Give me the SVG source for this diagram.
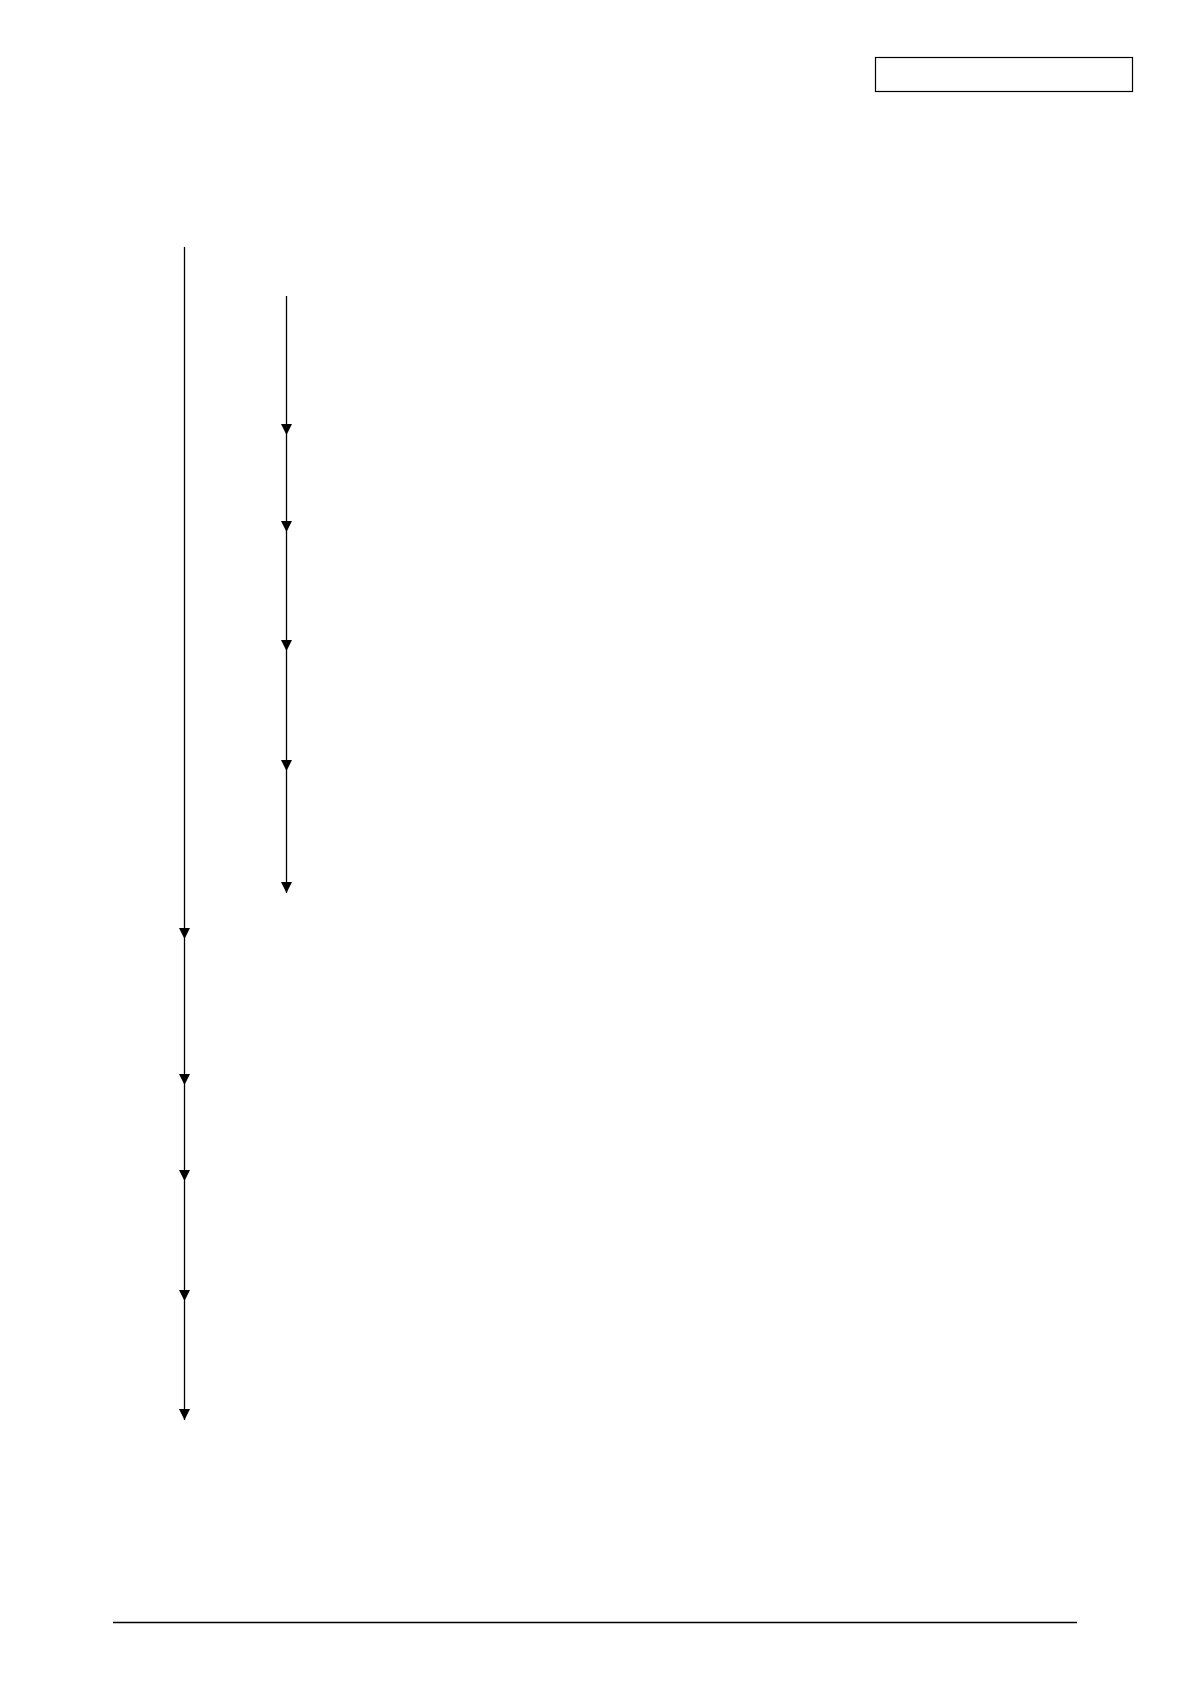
<svg xmlns="http://www.w3.org/2000/svg" width="1190" height="1684" viewBox="0 0 1190 1684">
<style>
.ln{stroke:#000;stroke-width:1.3;fill:none}
.box{stroke:#000;stroke-width:1.2;fill:#fff}
.arr{marker-end:url(#ah)}
</style>
<defs>
<marker id="ah" markerUnits="userSpaceOnUse" viewBox="0 0 11 11" refX="11" refY="5.5" markerWidth="11" markerHeight="11" orient="auto">
<path d="M0,0 L11,5.5 L0,11 z" fill="#000"/>
</marker>
</defs>
<rect width="1190" height="1684" fill="#fff"/>
<g id="header-box">
<rect class="box" x="875.5" y="57.5" width="257" height="34"/>
</g>
<g id="connectors">
<line class="ln arr" x1="184.5" y1="247" x2="184.5" y2="939"/>
<line class="ln arr" x1="184.5" y1="939" x2="184.5" y2="1085"/>
<line class="ln arr" x1="184.5" y1="1085" x2="184.5" y2="1181"/>
<line class="ln arr" x1="184.5" y1="1181" x2="184.5" y2="1301"/>
<line class="ln arr" x1="184.5" y1="1301" x2="184.5" y2="1420"/>
<line class="ln arr" x1="286.5" y1="296" x2="286.5" y2="435"/>
<line class="ln arr" x1="286.5" y1="435" x2="286.5" y2="532"/>
<line class="ln arr" x1="286.5" y1="532" x2="286.5" y2="651"/>
<line class="ln arr" x1="286.5" y1="651" x2="286.5" y2="771"/>
<line class="ln arr" x1="286.5" y1="771" x2="286.5" y2="893"/>
</g>
<g id="footer-rule">
<line class="ln" x1="113" y1="1622.5" x2="1077" y2="1622.5"/>
</g>
</svg>
